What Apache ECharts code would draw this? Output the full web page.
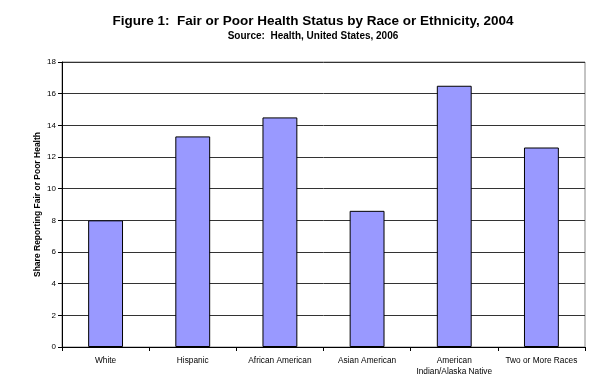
<!DOCTYPE html>
<html><head><meta charset="utf-8">
<script src="https://cdn.jsdelivr.net/npm/echarts@6/dist/echarts.min.js"></script>
<style>html,body{margin:0;padding:0;background:#fff}#c{width:594px;height:385px}</style>
</head><body><div id="c"></div>
<script>
var categories = ['White', 'Hispanic', 'African American', 'Asian American', 'American\nIndian/Alaska Native', 'Two or More Races'];
var values = [8.0, 13.3, 14.5, 8.6, 16.5, 12.6];
var yTicks = [0, 2, 4, 6, 8, 10, 12, 14, 16, 18];

var chart = echarts.init(document.getElementById('c'));
chart.setOption({
  animation: false,
  backgroundColor: '#fff',
  title: [{
    text: 'Figure 1:  Fair or Poor Health Status by Race or Ethnicity, 2004',
    left: 308, top: 9, textAlign: 'center',
    textStyle: {fontFamily: 'Liberation Sans, Arial', fontSize: 13.5, fontWeight: 'bold', color: '#000'}
  }, {
    text: 'Source:  Health, United States, 2006',
    left: 308, top: 26, textAlign: 'center',
    textStyle: {fontFamily: 'Liberation Sans, Arial', fontSize: 10, fontWeight: 'bold', color: '#000'}
  }],
  grid: {left: 62, right: 9, top: 62, bottom: 38, show: true, borderColor: '#888', borderWidth: 1},
  xAxis: {
    type: 'category', data: categories,
    axisLine: {lineStyle: {color: '#000', width: 1}},
    axisTick: {show: true, alignWithLabel: false, length: 4, lineStyle: {color: '#000'}},
    axisLabel: {interval: 0, fontFamily: 'Liberation Sans, Arial', fontSize: 8.3, color: '#000', margin: 8, lineHeight: 11}
  },
  yAxis: {
    type: 'value', min: 0, max: 18, interval: 2,
    name: 'Share Reporting Fair or Poor Health', nameLocation: 'middle', nameGap: 20,
    nameMoveOverlap: false,
    nameTextStyle: {fontFamily: 'Liberation Sans, Arial', fontSize: 8.5, fontWeight: 'bold', color: '#000'},
    axisLine: {show: true, lineStyle: {color: '#000', width: 1}},
    axisTick: {show: true, length: 4, lineStyle: {color: '#000'}},
    axisLabel: {fontFamily: 'Liberation Sans, Arial', fontSize: 8, color: '#000', margin: 6,
      formatter: function (v) { return yTicks.indexOf(v) >= 0 ? String(v) : ''; }},
    splitLine: {show: true, lineStyle: {color: '#333', width: 1}}
  },
  series: [{
    type: 'bar', data: values, barCategoryGap: '60%',
    itemStyle: {color: '#9999FF', borderColor: '#000', borderWidth: 1}
  }]
});
</script></body></html>
